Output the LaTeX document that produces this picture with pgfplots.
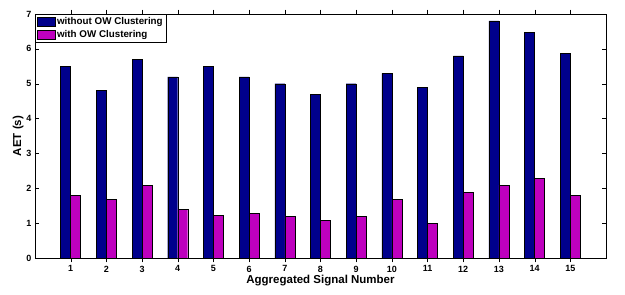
\documentclass[border=0pt]{standalone}
\usepackage{pgfplots}
\pgfplotsset{compat=1.18}
\usepackage{fontspec}
\setmainfont{Liberation Sans}
\definecolor{cblue}{RGB}{0,0,140}
\definecolor{cmag}{RGB}{190,0,190}
\begin{document}
\begin{tikzpicture}
\path[use as bounding box] (-35pt,-37pt) rectangle (590pt,258pt);
\begin{axis}[
  scale only axis,
  width=571pt, height=244pt,
  xmin=0, xmax=16, ymin=0, ymax=7,
  xtick={1,...,15}, ytick={0,...,7},
  ybar=0pt, bar width=10pt,
  /pgf/number format/assume math mode=true,
  tick label style={font=\fontsize{9}{10}\selectfont\bfseries},
  label style={font=\fontsize{11.5}{12}\selectfont\bfseries},
  xlabel={Aggregated Signal Number},
  ylabel={AET (s)},
  xlabel style={yshift=4pt},
  ylabel style={yshift=-4pt},
  legend style={at={(0,1)}, anchor=north west, font=\fontsize{9.8}{10}\selectfont\bfseries,
    draw=black, inner sep=1.5pt, row sep=0pt, cells={anchor=west}},
  legend image code/.code={\draw[#1] (0pt,-4.5pt) rectangle (18pt,4.5pt);},
  axis line style={black}, tick style={black},
]
\addplot[fill=cblue, draw=black] coordinates {
(1,5.5) (2,4.8) (3,5.7) (4,5.2) (5,5.5) (6,5.2) (7,5.0) (8,4.7) (9,5.0) (10,5.3) (11,4.9) (12,5.8) (13,6.8) (14,6.47) (15,5.88)};
\addplot[fill=cmag, draw=black] coordinates {
(1,1.8) (2,1.69) (3,2.09) (4,1.4) (5,1.23) (6,1.29) (7,1.2) (8,1.09) (9,1.2) (10,1.69) (11,1.0) (12,1.89) (13,2.09) (14,2.29) (15,1.8)};
\legend{without OW Clustering, with OW Clustering}
\end{axis}
\end{tikzpicture}
\end{document}
